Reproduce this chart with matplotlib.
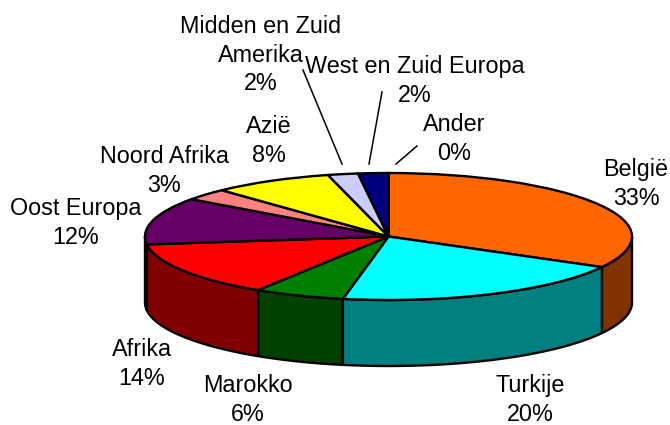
import numpy as np
import matplotlib
matplotlib.use('Agg')
import matplotlib.pyplot as plt
from matplotlib.lines import Line2D

plt.rcParams['font.family'] = ['Liberation Sans', 'DejaVu Sans']

labels = ['België', 'Turkije', 'Marokko', 'Afrika', 'Oost Europa', 'Noord Afrika',
          'Azië', 'Midden en Zuid\nAmerika', 'West en Zuid Europa', 'Ander']
values = [33, 20, 6, 14, 12, 3, 8, 2, 2, 0]
top_colors = ['#FF6600', '#00FFFF', '#008000', '#FF0000', '#660066', '#FF8080',
              '#FFFF00', '#CCCCFF', '#000080', '#FFFFFF']
side_colors = ['#803300', '#008080', '#004000', '#800000', '#330033', '#804040',
               '#808000', '#666680', '#000040', '#808080']

# where things sit in the 670x425 picture
label_x = [636, 530, 248, 142, 76, 164, 269, 261, 414.5, 454]
label_y = [184, 400, 400, 364, 223, 171, 141, 55, 81, 139]
leaders = [((303, 70), (342, 164)), ((382, 92), (369, 164)), ((417, 146), (396, 164))]

cx, cy = 388.5, 236.5
rx, ry = 243.5, 63.5
depth = 66 / ry

W, H = 670, 425
fig = plt.figure(figsize=(6.7, 4.25), dpi=100)
ax = fig.add_axes([0, 0, 1, 1])

# top face, unit circle stretched to an ellipse by the axes limits
ax.pie(values, colors=top_colors, startangle=90, counterclock=False, frame=True,
       wedgeprops={'edgecolor': 'black', 'linewidth': 1.7, 'zorder': 3})
ax.set_aspect('auto')
ax.set_xlim(-cx / rx, (W - cx) / rx)
ax.set_ylim((cy - H) / ry, cy / ry)
ax.axis('off')

# side wall, only the part facing the viewer (lower half)
fracs = np.cumsum([0] + values) / sum(values)
for i in range(len(values)):
    a0 = 90 - fracs[i] * 360
    a1 = 90 - fracs[i + 1] * 360
    th = np.radians(np.linspace(a0, a1, 200))
    th = th[np.sin(th) <= 0]
    if len(th) < 2:
        continue
    xs = np.cos(th)
    ys = np.sin(th)
    ax.fill(np.r_[xs, xs[::-1]], np.r_[ys, ys[::-1] - depth],
            facecolor=side_colors[i], edgecolor='black', linewidth=1.7,
            joinstyle='round', zorder=2)

# labels
for i in range(len(labels)):
    txt = labels[i] + '\n' + str(values[i]) + '%'
    fig.text(label_x[i] / W, 1 - label_y[i] / H, txt, ha='center', va='center',
             fontsize=16.8, linespacing=1.3, color='black')

for p0, p1 in leaders:
    fig.add_artist(Line2D([p0[0] / W, p1[0] / W], [1 - p0[1] / H, 1 - p1[1] / H],
                          color='black', linewidth=1.1))

fig.savefig('out.png', dpi=100, facecolor='white')
